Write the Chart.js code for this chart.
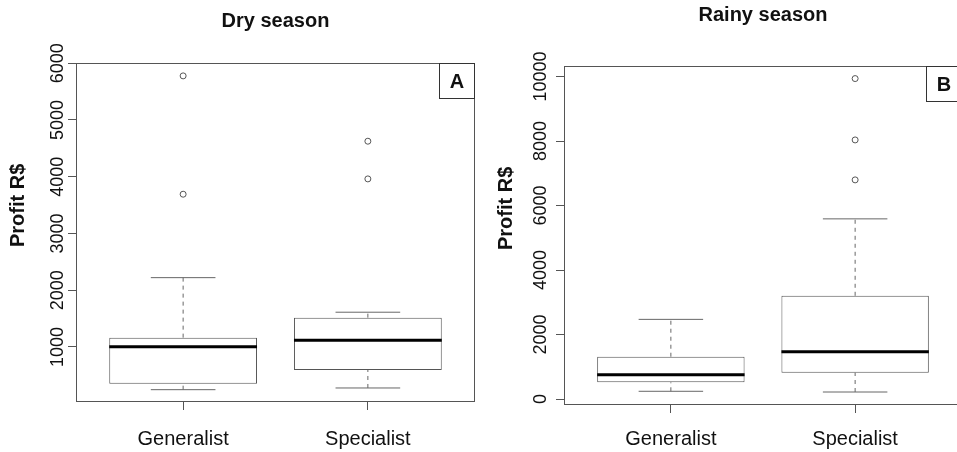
<!DOCTYPE html>
<html>
<head>
<meta charset="utf-8">
<script src="https://cdn.jsdelivr.net/npm/chart.js@4"></script>
<style>
html, body { margin: 0; padding: 0; background: #fff; overflow: hidden; width: 957px; height: 452px; }
#dry { position: absolute; left: 0; top: 0; }
#rainy { position: absolute; left: 478px; top: 0; }
</style>
</head>
<body>
<canvas id="dry" width="480" height="452"></canvas>
<canvas id="rainy" width="489" height="452"></canvas>
<script>
//Groups on the x axis
const groups = ['Generalist', 'Specialist'];

//Dry season (panel A), profit in R$
const dryLow = [247, 277];
const dryQ1 = [353, 595];
const dryMedian = [1003, 1118];
const dryQ3 = [1164, 1516];
const dryHigh = [2221, 1612];
const dryOutliers = [[3691, 5776], [3961, 4625]];
const dryTicks = [1000, 2000, 3000, 4000, 5000, 6000];

//Rainy season (panel B), profit in R$
const rainyLow = [239, 217];
const rainyQ1 = [517, 815];
const rainyMedian = [753, 1466];
const rainyQ3 = [1311, 3201];
const rainyHigh = [2470, 5587];
const rainyOutliers = [[], [6796, 8035, 9938]];
const rainyTicks = [0, 2000, 4000, 6000, 8000, 10000];

//Box and staple half widths, in x units (like R's boxwex / staplewex)
const boxHalf = 0.4;
const capHalf = 0.175;
const font = '"Liberation Sans", Arial, sans-serif';

//Turns [x1,y1,x2,y2] pairs into one line dataset with gaps between segments
let segments = (pairs) => {
	let pts = [];
	pairs.forEach(p => {
		pts.push({x: p[0], y: p[1]}, {x: p[2], y: p[3]}, {x: p[2], y: null});
	});
	return pts;
};

//Frame around the plot, the letter box and the y label
const panelDecor = {
	id: 'panelDecor',
	afterDraw(chart, args, opts) {
		const ctx = chart.ctx;
		const a = chart.chartArea;
		ctx.save();
		ctx.strokeStyle = '#555';
		ctx.lineWidth = 1;
		ctx.strokeRect(Math.round(a.left) + 0.5, Math.round(a.top) + 0.5,
			Math.round(a.right - a.left) - 1, Math.round(a.bottom - a.top) - 1);
		ctx.strokeStyle = '#333';
		ctx.strokeRect(Math.round(a.right) - 35.5, Math.round(a.top) + 0.5, 35, 35);
		ctx.fillStyle = '#111';
		ctx.font = 'bold 20px ' + font;
		ctx.textAlign = 'center';
		ctx.textBaseline = 'middle';
		ctx.fillText(opts.letter, Math.round(a.right) - 18, a.top + 19);
		ctx.translate(a.left - 58, a.top + 0.42 * (a.bottom - a.top));
		ctx.rotate(-Math.PI / 2);
		ctx.fillText(opts.yLabel, 0, 0);
		ctx.restore();
	}
};

let makePanel = (id, p) => {
	let boxes = groups.map((g, i) => ({x: i + 1, y: [p.q1[i], p.q3[i]]}));
	let medians = segments(groups.map((g, i) => [i + 1 - boxHalf, p.median[i], i + 1 + boxHalf, p.median[i]]));
	let whiskers = segments(groups.flatMap((g, i) => [
		[i + 1, p.q3[i], i + 1, p.high[i]],
		[i + 1, p.low[i], i + 1, p.q1[i]]
	]));
	let caps = segments(groups.flatMap((g, i) => [
		[i + 1 - capHalf, p.high[i], i + 1 + capHalf, p.high[i]],
		[i + 1 - capHalf, p.low[i], i + 1 + capHalf, p.low[i]]
	]));
	let outliers = [];
	p.outliers.forEach((list, i) => list.forEach(v => outliers.push({x: i + 1, y: v})));

	return new Chart(document.getElementById(id), {
		type: 'bar',
		data: {
			datasets: [
				{
					type: 'bar',
					data: boxes,
					backgroundColor: '#fff',
					borderColor: '#555',
					borderWidth: 1,
					borderSkipped: false,
					categoryPercentage: 0.8,
					barPercentage: 1,
					order: 3
				},
				{
					type: 'line',
					data: whiskers,
					borderColor: '#666',
					borderWidth: 1,
					borderDash: [4, 4],
					pointRadius: 0,
					spanGaps: false,
					order: 4
				},
				{
					type: 'line',
					data: caps,
					borderColor: '#666',
					borderWidth: 1,
					pointRadius: 0,
					spanGaps: false,
					order: 2
				},
				{
					type: 'line',
					data: medians,
					borderColor: '#000',
					borderWidth: 3,
					pointRadius: 0,
					spanGaps: false,
					order: 0
				},
				{
					type: 'line',
					data: outliers,
					showLine: false,
					pointStyle: 'circle',
					pointRadius: 3,
					pointBorderWidth: 1,
					pointBorderColor: '#555',
					pointBackgroundColor: '#fff',
					order: 1
				}
			]
		},
		options: {
			responsive: false,
			animation: false,
			layout: {padding: {left: 0, right: 3, top: 0, bottom: 0}},
			scales: {
				x: {
					type: 'linear',
					offset: false,
					min: 0.42,
					max: 2.58,
					afterBuildTicks: s => { s.ticks = groups.map((g, i) => ({value: i + 1})); },
					afterFit: s => { s.height = p.xAxisHeight; },
					ticks: {
						callback: v => groups[v - 1],
						color: '#111',
						font: {family: font, size: 20},
						padding: p.xPad,
						maxRotation: 0
					},
					grid: {offset: false, drawOnChartArea: false, tickLength: 8, color: '#555'},
					border: {display: false}
				},
				y: {
					min: p.yMin,
					max: p.yMax,
					afterBuildTicks: s => { s.ticks = p.ticks.map(v => ({value: v})); },
					afterFit: s => { s.width = p.yAxisWidth; },
					ticks: {
						callback: v => String(v),
						color: '#111',
						font: {family: font, size: 18},
						minRotation: 90,
						maxRotation: 90,
						crossAlign: 'center',
						padding: -10
					},
					grid: {drawOnChartArea: false, tickLength: 8, color: '#555'},
					border: {display: false}
				}
			},
			plugins: {
				legend: {display: false},
				tooltip: {enabled: false},
				title: {
					display: true,
					text: p.title,
					fullSize: false,
					color: '#111',
					font: {family: font, size: 20, weight: 'bold'},
					padding: p.titlePad
				},
				panelDecor: {letter: p.letter, yLabel: 'Profit R$'}
			}
		},
		plugins: [panelDecor]
	});
};

makePanel('dry', {
	title: 'Dry season', letter: 'A',
	low: dryLow, q1: dryQ1, median: dryMedian, q3: dryQ3, high: dryHigh, outliers: dryOutliers,
	ticks: dryTicks, yMin: 30, yMax: 6003,
	yAxisWidth: 76, xAxisHeight: 50, xPad: 17,
	titlePad: {top: 9, bottom: 30}
});

makePanel('rainy', {
	title: 'Rainy season', letter: 'B',
	low: rainyLow, q1: rainyQ1, median: rainyMedian, q3: rainyQ3, high: rainyHigh, outliers: rainyOutliers,
	ticks: rainyTicks, yMin: -186, yMax: 10328,
	yAxisWidth: 86, xAxisHeight: 47, xPad: 14,
	titlePad: {top: 3, bottom: 39}
});
</script>
</body>
</html>
